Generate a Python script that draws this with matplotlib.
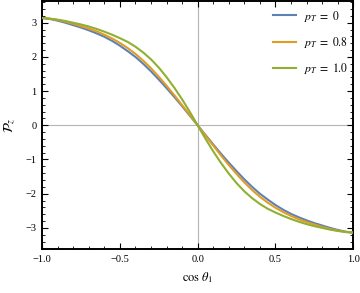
import matplotlib
matplotlib.use('Agg')
import matplotlib.pyplot as plt
from matplotlib.ticker import MultipleLocator

plt.rcParams['font.family'] = 'Liberation Serif'
plt.rcParams['mathtext.fontset'] = 'stix'

# values, every 0.05 in cos(theta_1)
cos_theta = [-1.0, -0.95, -0.9, -0.85, -0.8, -0.75, -0.7, -0.65, -0.6, -0.55, -0.5,
             -0.45, -0.4, -0.35, -0.3, -0.25, -0.2, -0.15, -0.1, -0.05, 0.0,
             0.05, 0.1, 0.15, 0.2, 0.25, 0.3, 0.35, 0.4, 0.45, 0.5,
             0.55, 0.6, 0.65, 0.7, 0.75, 0.8, 0.85, 0.9, 0.95, 1.0]
pz_pt0 = [3.14, 3.11, 3.06, 3.00, 2.93, 2.86, 2.78, 2.69, 2.59, 2.47, 2.33,
          2.17, 2.00, 1.80, 1.58, 1.34, 1.09, 0.83, 0.56, 0.28, 0.0,
          -0.28, -0.56, -0.83, -1.09, -1.34, -1.58, -1.80, -2.00, -2.17, -2.33,
          -2.47, -2.59, -2.69, -2.78, -2.86, -2.93, -3.00, -3.06, -3.11, -3.14]
pz_pt08 = [3.14, 3.12, 3.08, 3.03, 2.97, 2.90, 2.83, 2.75, 2.65, 2.54, 2.41,
           2.26, 2.09, 1.89, 1.67, 1.42, 1.16, 0.88, 0.59, 0.30, 0.0,
           -0.30, -0.59, -0.88, -1.16, -1.42, -1.67, -1.89, -2.09, -2.26, -2.41,
           -2.54, -2.65, -2.75, -2.83, -2.90, -2.97, -3.03, -3.08, -3.12, -3.14]
pz_pt10 = [3.14, 3.12, 3.09, 3.05, 3.00, 2.95, 2.89, 2.82, 2.74, 2.65, 2.55,
           2.44, 2.30, 2.13, 1.93, 1.69, 1.41, 1.10, 0.76, 0.39, 0.0,
           -0.39, -0.76, -1.10, -1.41, -1.69, -1.93, -2.13, -2.30, -2.44, -2.55,
           -2.65, -2.74, -2.82, -2.89, -2.95, -3.00, -3.05, -3.09, -3.12, -3.14]
labels = [r'$p_T\;=\;0$', r'$p_T\;=\;0.8$', r'$p_T\;=\;1.0$']
colors = ['#5E81B5', '#E19C24', '#8FB032']

fig = plt.figure(figsize=(3.6, 2.93), dpi=100)
ax = fig.add_axes([0.117, 0.150, 0.864, 0.847])

ax.axhline(0, color='#b5b5b5', lw=0.8, zorder=1)
ax.axvline(0, color='#b5b5b5', lw=0.8, zorder=1)

for ys, lab, c in zip([pz_pt0, pz_pt08, pz_pt10], labels, colors):
    ax.plot(cos_theta, ys, color=c, lw=1.5, label=lab, zorder=3)

ax.set_xlim(-1, 1)
ax.set_ylim(-3.62, 3.64)
ax.xaxis.set_minor_locator(MultipleLocator(0.1))
ax.yaxis.set_minor_locator(MultipleLocator(0.2))
ax.tick_params(which='both', direction='in', top=True, right=True, labelsize=7.5)
ax.tick_params(which='major', length=4, width=0.8, pad=4)
ax.tick_params(which='minor', length=2.5, width=0.6)
ax.set_xticks([-1, -0.5, 0, 0.5, 1])
ax.set_xticklabels(['\u22121.0', '\u22120.5', '0.0', '0.5', '1.0'])
ax.set_yticks([-3, -2, -1, 0, 1, 2, 3])
ax.set_yticklabels(['\u22123', '\u22122', '\u22121', '0', '1', '2', '3'])
for s in ax.spines.values():
    s.set_linewidth(1.4)

ax.set_xlabel(r'$\cos\,\theta_1$', fontsize=9, labelpad=5)
ax.set_ylabel(r'$\mathcal{P}_z$', fontsize=10, labelpad=6)

ax.legend(loc='upper right', frameon=False, fontsize=8.5, handlelength=1.9,
          labelspacing=0.95, borderaxespad=0.0, handletextpad=0.7,
          bbox_to_anchor=(1.0, 0.988))

fig.savefig('out.png', dpi=100)
